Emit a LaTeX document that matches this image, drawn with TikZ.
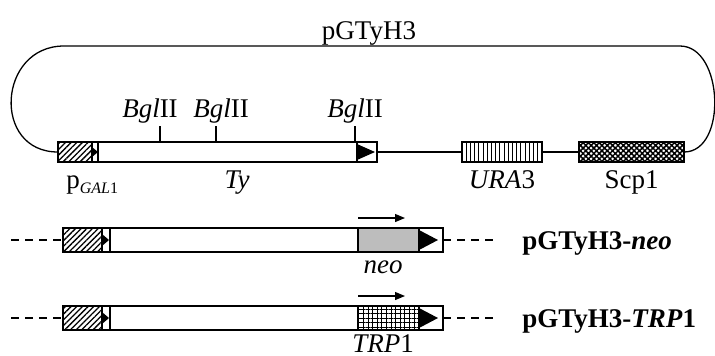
\documentclass[tikz,border=0pt]{standalone}
\usepackage{fontspec}
\setmainfont{Liberation Serif}
\usetikzlibrary{arrows.meta, patterns.meta, positioning, calc}
\definecolor{cneo}{HTML}{BDBDBD}
\tikzset{
  every picture/.style={font=\fontsize{13.5}{16}\selectfont, line width=0.65pt},
  seg/.style={draw, line width=0.9pt, inner sep=0pt, outer sep=0pt, fill=white, minimum height=#1},
  seg/.default=10pt,
  prombox/.style={seg=#1, pattern={Lines[angle=45, distance=2pt, line width=0.65pt]}},
  urabox/.style={seg=#1, pattern={Lines[angle=90, distance=2.1pt, line width=0.5pt]}},
  scpbox/.style={seg=#1, pattern={Hatch[angle=45, distance=1.9pt, line width=0.75pt]}},
  trpbox/.style={seg=#1, pattern={Hatch[angle=0, distance=2.3pt, line width=0.5pt]}},
  dashline/.style={dash pattern=on 4pt off 3pt, line width=0.65pt},
  dirarrow/.style={-{Triangle[length=5pt, width=4pt]}, line width=0.6pt},
  rowlabel/.style={font=\fontsize{13.5}{16}\selectfont\bfseries, anchor=base west},
}

\begin{document}
\begin{tikzpicture}[x=0.5pt, y=-0.5pt]
  \useasboundingbox (0,0) rectangle (715,355);
  % plasmid pGTyH3
  \node[anchor=base] (title) at (369,39) {pGTyH3};
  \node[prombox, anchor=west, minimum width=17pt] (prom0) at (58,152) {};
  \node[seg, minimum width=3pt, right=0pt of prom0] (lead0) {};
  \node[seg, minimum width=129.5pt, right=0pt of lead0] (ty0) {};
  \node[seg, minimum width=10pt, right=0pt of ty0] (term0) {};
  \fill (prom0.east) ++(0,-5) -- ++(6,5) -- ++(-6,5) -- cycle;
  \fill (term0.west) ++(0,-8) -- ++(18,8) -- ++(-18,8) -- cycle;
  \node[urabox, minimum width=40pt] (ura) at (502,152) {};
  \node[scpbox, minimum width=52.5pt] (scp) at (631.5,152) {};
  \coordinate (topR) at (680,46);
  \coordinate (topL) at (64,46);
  \draw (term0.east) -- (ura.west);
  \draw (ura.east) -- (scp.west);
  \draw (scp.east) to[out=0, in=0, looseness=1.05] (topR) -- (topL)
    to[out=180, in=180, looseness=1.6] (prom0.west);
  % BglII sites
  \foreach \s/\l [count=\i] in {160/150, 216/221, 355/355} {
    \coordinate (site\i) at (\s,126);
    \draw (site\i) -- (site\i |- ty0.north);
    \node[anchor=base] (bgl\i) at (\l,117) {\textit{Bgl}II};
  }
  \node[anchor=base west] (pgal) at (59,188) {p\raisebox{-2.5pt}{\fontsize{8}{9}\selectfont\textit{GAL}1}};
  \node[anchor=base] (tylab) at (237,188) {\textit{Ty}};
  \node[anchor=base] (uralab) at (ura |- tylab.base) {\textit{URA}3};
  \node[anchor=base] (scplab) at (scp |- tylab.base) {Scp1};
  % pGTyH3-neo
  \node[prombox=12pt, anchor=west, minimum width=19.5pt] (prom1) at (63,240) {};
  \node[seg=12pt, minimum width=4pt, right=0pt of prom1] (lead1) {};
  \node[seg=12pt, minimum width=124pt, right=0pt of lead1] (body1) {};
  \node[seg=12pt, fill=cneo, minimum width=30.5pt, right=0pt of body1] (neo1) {};
  \node[seg=12pt, minimum width=12pt, right=0pt of neo1] (term1) {};
  \fill (prom1.east) ++(0,-6) -- ++(7,6) -- ++(-7,6) -- cycle;
  \fill (term1.west) ++(0,-10) -- ++(19,10) -- ++(-19,10) -- cycle;
  \coordinate (dl1) at (11,240);
  \coordinate (dr1) at (493,240);
  \draw[dashline] (dl1) -- (prom1.west);
  \draw[dashline] (term1.east) -- (dr1);
  \draw[dirarrow] (neo1.north west) ++(0,-10) -- ++(47,0);
  \node[anchor=base] (neolab) at (383,273) {\textit{neo}};
  \node[rowlabel] (row1) at (515,249) {pGTyH3-\textit{neo}};
  % pGTyH3-TRP1
  \node[prombox=12pt, anchor=west, minimum width=19.5pt] (prom2) at (63,318) {};
  \node[seg=12pt, minimum width=4pt, right=0pt of prom2] (lead2) {};
  \node[seg=12pt, minimum width=124pt, right=0pt of lead2] (body2) {};
  \node[trpbox=12pt, minimum width=30.5pt, right=0pt of body2] (trp2) {};
  \node[seg=12pt, minimum width=12pt, right=0pt of trp2] (term2) {};
  \fill (prom2.east) ++(0,-6) -- ++(7,6) -- ++(-7,6) -- cycle;
  \fill (term2.west) ++(0,-10) -- ++(19,10) -- ++(-19,10) -- cycle;
  \coordinate (dl2) at (11,318);
  \coordinate (dr2) at (493,318);
  \draw[dashline] (dl2) -- (prom2.west);
  \draw[dashline] (term2.east) -- (dr2);
  \draw[dirarrow] (trp2.north west) ++(0,-10) -- ++(47,0);
  \node[anchor=base] (trplab) at (383,352) {\textit{TRP}1};
  \node[rowlabel] (row2) at (515,327) {pGTyH3-\textit{TRP}1};
\end{tikzpicture}
\end{document}
